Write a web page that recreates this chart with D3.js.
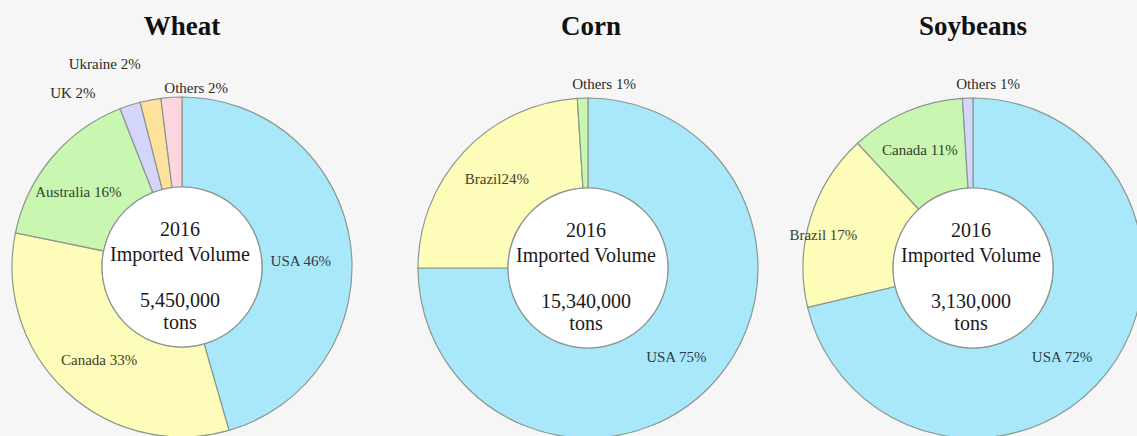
<!DOCTYPE html>
<html>
<head>
<meta charset="utf-8">
<script src="https://cdn.jsdelivr.net/npm/d3@7"></script>
<style>
  html, body { margin: 0; padding: 0; background: #f6f6f6; }
  svg { display: block; font-family: "Liberation Serif", "Times New Roman", serif; }
</style>
</head>
<body>
<div id="chart"></div>
<script>
// data
const crops = ["Wheat", "Corn", "Soybeans"]
const totals = ["5,450,000", "15,340,000", "3,130,000"]
const year = "2016"

const wheatCountries = ["USA", "Canada", "Australia", "UK", "Ukraine", "Others"]
const wheatShares = [46, 33, 16, 2, 2, 2]

const cornCountries = ["USA", "Brazil", "Others"]
const cornShares = [75, 24, 1]

const soyCountries = ["USA", "Brazil", "Canada", "Others"]
const soyShares = [72, 17, 11, 1]

const sliceColors = ["#a9e8fb", "#fdfcb8", "#c9f7b2", "#d3d5fb", "#fde19c", "#fdd5dd"]

// layout (not data)
const width = 1137
const height = 436
const centers = [[182, 267], [588, 268], [973, 268]]
const outerR = 170
const innerR = 80

// labels that sit outside the ring, plus small nudges from the centroid
const outside = { "Wheat:UK": true, "Wheat:Ukraine": true, "Wheat:Others": true,
                  "Corn:Others": true, "Soybeans:Others": true }
const nudge = {
    "Wheat:USA": [-5, 11], "Wheat:Canada": [2, 1], "Wheat:Australia": [-8, 5],
    "Wheat:UK": [-51, 7], "Wheat:Ukraine": [-42, -17], "Wheat:Others": [26, 10],
    "Corn:USA": [0, 0], "Corn:Brazil": [0, -4], "Corn:Others": [22, 6],
    "Soybeans:USA": [-9, 11], "Soybeans:Brazil": [-30, 3], "Soybeans:Canada": [-4, -3],
    "Soybeans:Others": [21, 6]
}

const series = [
    { countries: wheatCountries, shares: wheatShares },
    { countries: cornCountries, shares: cornShares },
    { countries: soyCountries, shares: soyShares }
]

const svg = d3.select("#chart").append("svg")
    .attr("width", width)
    .attr("height", height)

svg.append("rect")
    .attr("width", width)
    .attr("height", height)
    .attr("fill", "#f6f6f6")

const pie = d3.pie().sort(null).value(d => d.share)
const arc = d3.arc().innerRadius(innerR).outerRadius(outerR)
const labelArc = d3.arc().innerRadius(190).outerRadius(190)

crops.forEach((crop, i) => {
    const [cx, cy] = centers[i]
    const rows = series[i].countries.map((c, j) => ({ country: c, share: series[i].shares[j], idx: j }))

    // title
    svg.append("text")
        .attr("x", cx + (i === 1 ? 3 : 0))
        .attr("y", 35)
        .attr("text-anchor", "middle")
        .attr("font-size", 27)
        .attr("font-weight", "bold")
        .attr("fill", "#111")
        .text(crop)

    const g = svg.append("g")
        .attr("transform", `translate(${cx},${cy})`)

    const arcs = pie(rows)

    g.selectAll("path.slice")
        .data(arcs)
        .join("path")
            .attr("class", "slice")
            .attr("d", arc)
            .attr("fill", d => sliceColors[d.data.idx])
            .attr("stroke", "#8c978e")
            .attr("stroke-width", 1.2)

    // center disc
    g.append("circle")
        .attr("r", innerR)
        .attr("fill", "#ffffff")
        .attr("stroke", "#8c978e")
        .attr("stroke-width", 1.2)

    const centerLines = [[year, -31], ["Imported Volume", -6], [totals[i], 40], ["tons", 62]]
    g.selectAll("text.center")
        .data(centerLines)
        .join("text")
            .attr("class", "center")
            .attr("x", -2)
            .attr("y", d => d[1])
            .attr("text-anchor", "middle")
            .attr("font-size", 20)
            .attr("fill", "#1a1a1a")
            .text(d => d[0])

    // slice labels
    g.selectAll("text.label")
        .data(arcs)
        .join("text")
            .attr("class", "label")
            .attr("transform", d => {
                const key = crop + ":" + d.data.country
                const p = outside[key] ? labelArc.centroid(d) : arc.centroid(d)
                const n = nudge[key] || [0, 0]
                return `translate(${p[0] + n[0]},${p[1] + n[1]})`
            })
            .attr("dy", "0.35em")
            .attr("text-anchor", "middle")
            .attr("font-size", 15)
            .attr("fill", d => outside[crop + ":" + d.data.country]
                ? "#2a2a2a"
                : d3.color(sliceColors[d.data.idx]).darker(3.8))
            .text(d => d.data.country + (crop === "Corn" && d.data.country === "Brazil" ? "" : " ") + d.data.share + "%")
})
</script>
</body>
</html>
